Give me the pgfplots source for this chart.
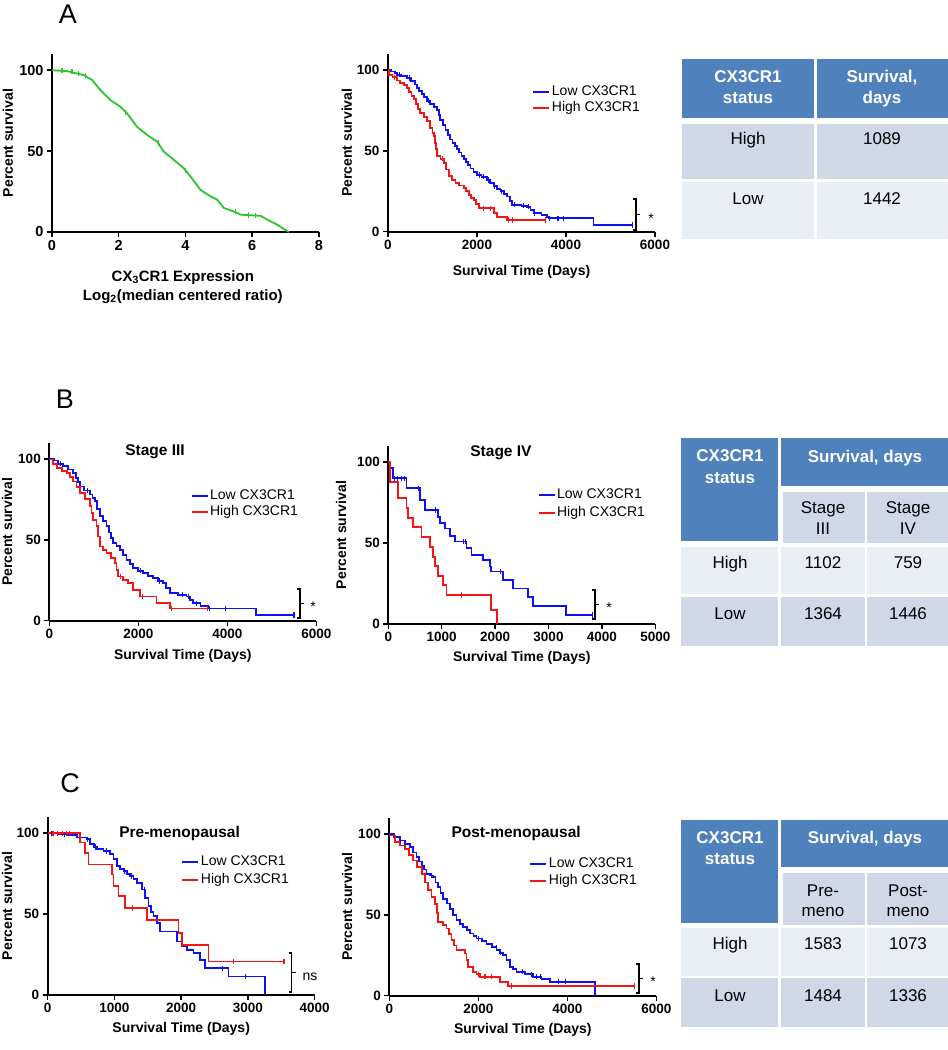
\documentclass[border=0pt]{standalone}
\usepackage{pgfplots}
\pgfplotsset{compat=1.18}
\usepackage{fontspec}
\setmainfont{Liberation Sans}
\newcommand{\fs}[1]{\fontsize{#1}{#1}\selectfont}
\definecolor{kmblue}{RGB}{15,15,245}
\definecolor{kmred}{RGB}{245,20,20}
\definecolor{kmgreen}{RGB}{45,195,45}
\definecolor{thead}{RGB}{79,129,189}
\definecolor{tdark}{RGB}{208,216,232}
\definecolor{tlight}{RGB}{233,237,244}
\pgfplotsset{
 km/.style={
  scale only axis, width=267pt, height=178pt,
  axis lines=left, axis line style={-, line width=1.8pt, black},
  xmin=0, ymin=0, ymax=110, ytick={0,50,100},
  tick align=outside, major tick length=5pt,
  tick style={line width=1.5pt, black},
  ticklabel style={font=\bfseries\fs{13.5}},
  /pgf/number format/assume math mode=true,
  /pgf/number format/set thousands separator={},
  scaled x ticks=false,
  label style={font=\bfseries\fs{14}},
  every axis title/.style={anchor=center, font=\bfseries\fs{15.5}},
  legend style={draw=none, fill=none, inner sep=0pt, outer sep=0pt, font=\fs{14}, anchor=west,
     nodes={inner xsep=1.5pt, inner ysep=0pt, text height=10pt, text depth=3pt}},
  legend cell align=left,
  legend image code/.code={\draw[##1, line width=2pt] (0pt,0pt) -- (16pt,0pt);},
  clip=false,
 },
 kl/.style={line width=1.8pt, const plot},
 cens/.style={only marks, mark=|, mark size=2.6pt, mark options={line width=1.1pt}, forget plot},
}
\newcommand{\brk}[6]{%
 \draw[line width=1.2pt] ({#1-3},{-#2}) -- (#1,{-#2}) -- (#1,{-#3}) -- ({#1-3},{-#3});
 \draw[line width=1.2pt] (#1,{-(#2+#3)/2}) -- ({#1+4},{-(#2+#3)/2});
 \node[font=\fs{14}, inner sep=0pt] at (#5,{-#6}) {#4};}
\newcommand{\thd}[3]{\node[anchor=base, inner sep=0pt, text=white, font=\bfseries\fs{17}] at (#1,{-#2-6}) {#3};}
\newcommand{\tbd}[3]{\node[anchor=base, inner sep=0pt, font=\fs{17}] at (#1,{-#2-6}) {#3};}
\begin{document}
\begin{tikzpicture}[x=1pt,y=1pt]
\path[use as bounding box] (0,0) rectangle (948,-1050);
% ---------------- Panel letters
\node[font=\fs{27}, inner sep=0pt] at (68,-14) {A};
\node[font=\fs{27}, inner sep=0pt] at (65,-399) {B};
\node[font=\fs{27}, inner sep=0pt] at (70,-783) {C};

% ---------------- A left
\begin{axis}[km, at={(52pt,-232pt)}, anchor=south west,
  xmax=8, xtick={0,2,4,6,8},
  ticklabel style={font=\bfseries\fs{14.5}},
  ylabel={Percent survival}, ylabel style={at={(axis description cs:-0.165,0.5)}, anchor=center},
  xlabel={CX\textsubscript{3}CR1 Expression\\Log\textsubscript{2}(median centered ratio)},
  xlabel style={at={(axis description cs:0.49,-0.309)}, anchor=center, align=center, font=\bfseries\fontsize{15}{19}\selectfont}]
\addplot[kmgreen, line width=1.8pt] table {
0 100
0.45 99.4
0.95 97
1.2 94
1.45 87.7
1.75 81.5
2.05 77.4
2.25 73.3
2.55 65
2.85 60
3.15 55.8
3.35 49.7
3.65 44.6
3.95 39.4
4.15 34.3
4.45 26
4.75 22
4.95 20
5.15 14.8
5.45 12.7
5.65 10.7
6.25 10
6.45 7.6
6.75 4.5
6.95 1.8
7.1 0
};
\addplot[kmgreen, cens] table {
0.3 99.7
0.6 99
0.8 98
1.0 96.5
2.2 74
3.2 55
4.0 38
5.5 12.5
5.9 10.5
6.1 10.2
};
\end{axis}

% ---------------- A middle
\begin{axis}[km, at={(388pt,-231.7pt)}, anchor=south west,
  xmax=6000, xtick={0,2000,4000,6000},
  ylabel={Percent survival}, ylabel style={at={(axis description cs:-0.154,0.5)}, anchor=center},
  xlabel={Survival Time (Days)}, xlabel style={at={(axis description cs:0.5,-0.225)}, anchor=center},
  legend style={at={(axis description cs:0.541,0.738)}, row sep=3.3pt}]
\addplot[kmblue, kl] table {
0 100
60 99
150 98
202 97
300 96
427 95
520 93
600 91
652 89
700 87
760 85
802 83
870 81
952 79
1030 77
1102 75
1140 72
1177 69
1230 66
1290 63
1340 60
1402 57
1450 55
1500 53
1552 51
1600 49
1650 47
1702 45
1750 43
1800 41
1852 39
1920 37
2002 35
2100 34
2227 32
2300 30
2377 28
2450 26.5
2527 25
2600 23.5
2677 21.7
2740 19
2790 16.6
3000 16
3127 15.5
3200 13.5
3277 11.4
3450 10.3
3577 9.3
3615 8.3
4620 4.1
5500 4.1
};
\addlegendentry{Low CX3CR1}
\addplot[kmred, kl] table {
0 100
15 97
100 95.5
200 93.5
277 92
360 90.5
427 89
480 86.5
530 84
577 82
630 79
680 76
727 73.5
800 71
877 68.3
950 64
1000 61
1027 59
1060 55
1080 51
1102 47
1180 45
1252 42.4
1310 38.5
1365 34.2
1440 32
1515 30
1600 28.5
1702 27
1760 25
1815 22.8
1870 21
1927 19.7
1980 17
2040 14.5
2377 11.4
2452 9.3
2677 7.2
3540 7.2
};
\addlegendentry{High CX3CR1}
\addplot[kmblue, cens] table {
250 97
480 95
900 81
2050 35
2150 34
2250 32
2400 28
2550 25
2850 16.6
3050 16
3150 15.5
3300 11.4
3630 8.3
3820 8.3
3950 8.3
5500 4.1
};
\addplot[kmred, cens] table {
150 95.5
1220 45
2150 14.5
2300 14.5
2700 7.2
2800 7.2
3540 7.2
};
\end{axis}

% ---------------- B left (Stage III)
\begin{axis}[km, at={(49.3pt,-620.7pt)}, anchor=south west,
  xmax=6000, xtick={0,2000,4000,6000},
  title={Stage III}, title style={at={(axis description cs:0.396,0.949)}},
  ylabel={Percent survival}, ylabel style={at={(axis description cs:-0.158,0.5)}, anchor=center},
  xlabel={Survival Time (Days)}, xlabel style={at={(axis description cs:0.5,-0.198)}, anchor=center},
  legend style={at={(axis description cs:0.529,0.653)}, row sep=3pt}]
\addplot[kmblue, kl] table {
0 100
100 99
200 97
314 95.5
420 93.5
539 91.3
600 88
650 85.5
688 83
780 80.5
912 78
970 76
1025 73.8
1080 69
1137 64.5
1210 61.5
1287 58.3
1340 54.5
1390 51
1436 48
1510 46
1586 43.8
1660 40.5
1735 37.6
1810 35
1885 32.4
2000 30.8
2109 29.3
2220 27.7
2334 26.2
2450 24.6
2558 23.1
2630 20
2708 17
2900 16
3082 14.9
3160 12.8
3232 10.7
3400 9.2
3568 7.6
4640 3.5
5500 3.5
};
\addlegendentry{Low CX3CR1}
\addplot[kmred, kl] table {
0 99.6
80 97
165 94.4
280 92.5
389 91.3
460 89
539 86
610 82.5
688 79
800 75
912 70.7
950 66.5
987 62.4
1062 58.3
1100 52
1137 45.9
1210 43.8
1287 41.7
1380 38.6
1474 35.5
1510 31.5
1548 27.3
1660 25.2
1773 23.1
1885 19
2034 14.9
2409 10.7
2708 7.6
3550 7.6
};
\addlegendentry{High CX3CR1}
\addplot[kmblue, cens] table {
250 97
850 80.5
2050 30.8
2480 24.6
3000 16
3120 14.9
3300 10.7
3600 7.6
3950 7.6
5500 3.5
};
\addplot[kmred, cens] table {
1600 27.3
2100 14.9
2750 7.6
3550 7.6
};
\end{axis}

% ---------------- B middle (Stage IV)
\begin{axis}[km, at={(388.3pt,-624pt)}, anchor=south west,
  xmax=5000, xtick={0,1000,2000,3000,4000,5000},
  title={Stage IV}, title style={at={(axis description cs:0.422,0.962)}},
  ylabel={Percent survival}, ylabel style={at={(axis description cs:-0.177,0.5)}, anchor=center},
  xlabel={Survival Time (Days)}, xlabel style={at={(axis description cs:0.5,-0.191)}, anchor=center},
  legend style={at={(axis description cs:0.559,0.674)}, row sep=5pt}]
\addplot[kmblue, kl] table {
0 100
31 96.3
93 90.1
342 83.9
592 76.7
685 70.5
935 66
965 62.3
1058 59
1152 54.4
1245 51
1463 46.8
1557 42.7
1775 39.6
1900 35.5
1930 32.4
2148 27.2
2335 22
2615 16.9
2708 11.1
3331 5.6
3830 5.6
};
\addlegendentry{Low CX3CR1}
\addplot[kmred, kl] table {
0 100
31 88
187 77.7
342 71.5
374 65.4
467 59.8
623 54
778 47.4
840 41.6
872 35.9
934 29.9
1027 24.1
1090 17.9
1930 8.7
2040 0
};
\addlegendentry{High CX3CR1}
\addplot[kmblue, cens] table {
120 90.1
180 90.1
250 90.1
310 90.1
560 83.9
880 70.5
1400 51
1440 51
2100 32.4
3830 5.6
};
\addplot[kmred, cens] table {
1370 17.9
};
\end{axis}

% ---------------- C left (Pre-menopausal)
\begin{axis}[km, at={(47.7pt,-995pt)}, anchor=south west,
  xmax=4000, xtick={0,1000,2000,3000,4000},
  title={Pre-menopausal}, title style={at={(axis description cs:0.494,0.910)}},
  ylabel={Percent survival}, ylabel style={at={(axis description cs:-0.152,0.5)}, anchor=center},
  xlabel={Survival Time (Days)}, xlabel style={at={(axis description cs:0.5,-0.191)}, anchor=center},
  legend style={at={(axis description cs:0.501,0.699)}, row sep=5pt}]
\addplot[kmblue, kl] table {
0 100
150 99.4
285 98.8
435 97.3
585 96.3
635 93.2
690 91.5
735 90.1
835 89
935 87
985 83.9
1035 79.7
1085 78
1135 76.6
1185 75
1235 73.5
1285 71.5
1335 69.4
1410 65.2
1460 60
1510 54.9
1550 51.5
1585 48.7
1635 44.5
1685 39.3
1935 33.1
2010 30
2085 28
2185 25.9
2285 21.7
2360 16.6
2710 11.4
3260 0
};
\addlegendentry{Low CX3CR1}
\addplot[kmred, kl] table {
0 100
485 94.2
560 88
610 80.7
960 74.5
985 67.3
1060 61
1160 53.8
1485 46.2
1960 38.3
2010 31
2410 20.7
3540 20.7
};
\addlegendentry{High CX3CR1}
\addplot[kmblue, cens] table {
60 100
250 99.4
600 96.3
720 91.5
880 89
1150 76.6
1250 73.5
1450 65.2
2620 16.6
2970 11.4
};
\addplot[kmred, cens] table {
80 100
150 100
220 100
280 100
330 100
1270 53.8
2790 20.7
3540 20.7
};
\end{axis}

% ---------------- C middle (Post-menopausal)
\begin{axis}[km, at={(389.3pt,-995.7pt)}, anchor=south west,
  xmax=6000, xtick={0,2000,4000,6000},
  title={Post-menopausal}, title style={at={(axis description cs:0.475,0.914)}},
  ylabel={Percent survival}, ylabel style={at={(axis description cs:-0.158,0.5)}, anchor=center},
  xlabel={Survival Time (Days)}, xlabel style={at={(axis description cs:0.5,-0.193)}, anchor=center},
  legend style={at={(axis description cs:0.525,0.692)}, row sep=4.7pt}]
\addplot[kmblue, kl] table {
0 100
100 98
239 95.9
350 94
464 91.8
540 88.5
613 85.6
670 83
726 80.5
780 78
838 75.4
920 74.3
987 73.3
1040 70
1100 67.1
1150 63.5
1212 60
1290 57
1361 53.8
1430 50
1511 46.6
1590 44.5
1661 42.5
1740 40.5
1810 38.4
1890 36.8
1960 35.3
2080 33.7
2184 32.2
2300 30
2409 28.1
2480 26.5
2558 25
2633 22
2708 17.9
2780 16.4
2857 14.8
3050 13.2
3231 11.7
3420 10.2
3605 8.6
4615 0
};
\addlegendentry{Low CX3CR1}
\addplot[kmred, kl] table {
0 99
127 94.9
240 92.8
352 90.8
450 87
539 83.6
630 79.5
726 75.4
800 70
875 65.1
950 61
1025 56.9
1065 51
1100 45.6
1200 43.5
1287 41.5
1340 38
1399 34.3
1460 31
1511 28.1
1698 26.1
1735 22
1773 17.9
1885 14.8
1960 13.3
2034 11.7
2483 8.6
2670 6
5500 6
};
\addlegendentry{High CX3CR1}
\addplot[kmblue, cens] table {
250 95.9
950 74.3
2000 35.3
2400 30
2500 26.5
3000 14.8
3200 13.2
3300 11.7
3400 11.7
3800 8.6
3950 8.6
};
\addplot[kmred, cens] table {
2000 13.3
2150 11.7
2300 11.7
2750 6
5500 6
};
\end{axis}

% ---------------- brackets
\brk{636}{199}{230}{*}{651}{219}
\brk{300}{589}{618}{*}{313}{607}
\brk{595}{590}{619}{*}{609}{608}
\brk{291.5}{953}{992}{ns}{310}{977}
\brk{639}{964}{993}{*}{653}{982}

% ---------------- Table A
\fill[thead] (682,-59) rectangle (814,-118);
\fill[thead] (816.5,-59) rectangle (948,-118);
\fill[tdark] (682,-124) rectangle (814,-179);
\fill[tdark] (816.5,-124) rectangle (948,-179);
\fill[tlight] (682,-182) rectangle (814,-239);
\fill[tlight] (816.5,-182) rectangle (948,-239);
\thd{748}{76}{CX3CR1}\thd{748}{97}{status}
\thd{882}{76}{Survival,}\thd{882}{97}{days}
\tbd{748}{138}{High}\tbd{882}{138}{1089}
\tbd{748}{198}{Low}\tbd{882}{198}{1442}

% ---------------- Table B
\fill[thead] (681,-438) rectangle (778,-541);
\fill[thead] (781,-438) rectangle (948,-486);
\fill[tdark] (783,-492) rectangle (865,-543);
\fill[tdark] (867,-492) rectangle (948,-543);
\fill[tlight] (681,-547) rectangle (778,-594);
\fill[tlight] (781,-547) rectangle (865,-594);
\fill[tlight] (867,-547) rectangle (948,-594);
\fill[tdark] (681,-597) rectangle (778,-646);
\fill[tdark] (781,-597) rectangle (865,-646);
\fill[tdark] (867,-597) rectangle (948,-646);
\thd{730}{455}{CX3CR1}\thd{730}{477}{status}
\thd{865}{456}{Survival, days}
\tbd{823}{507}{Stage}\tbd{823}{528}{III}
\tbd{908}{507}{Stage}\tbd{908}{528}{IV}
\tbd{730}{562}{High}\tbd{823}{562}{1102}\tbd{908}{562}{759}
\tbd{730}{613}{Low}\tbd{823}{613}{1364}\tbd{908}{613}{1446}

% ---------------- Table C
\fill[thead] (681,-820) rectangle (778,-923);
\fill[thead] (781,-820) rectangle (948,-867);
\fill[tdark] (783,-873) rectangle (865,-925);
\fill[tdark] (867,-873) rectangle (948,-925);
\fill[tlight] (681,-928) rectangle (778,-976);
\fill[tlight] (781,-928) rectangle (865,-976);
\fill[tlight] (867,-928) rectangle (948,-976);
\fill[tdark] (681,-978) rectangle (778,-1027);
\fill[tdark] (781,-978) rectangle (865,-1027);
\fill[tdark] (867,-978) rectangle (948,-1027);
\thd{730}{837}{CX3CR1}\thd{730}{858}{status}
\thd{865}{837}{Survival, days}
\tbd{823}{890}{Pre-}\tbd{823}{910}{meno}
\tbd{908}{890}{Post-}\tbd{908}{910}{meno}
\tbd{730}{943}{High}\tbd{823}{943}{1583}\tbd{908}{943}{1073}
\tbd{730}{995}{Low}\tbd{823}{995}{1484}\tbd{908}{995}{1336}
\end{tikzpicture}
\end{document}
